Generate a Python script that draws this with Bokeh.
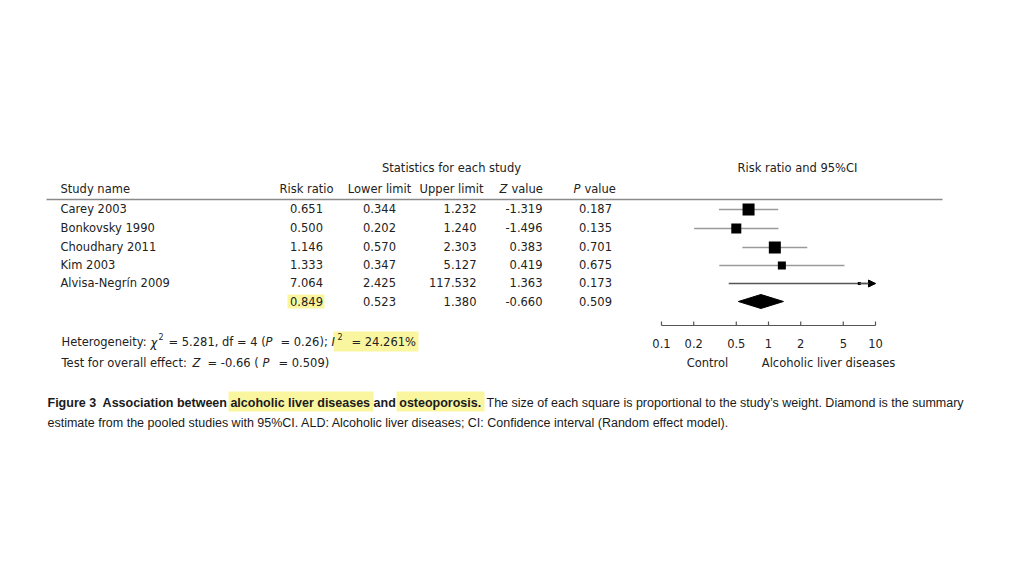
import math
from bokeh.plotting import figure
from bokeh.models import Range1d, LogScale, Arrow, NormalHead
from bokeh.core.properties import value
from bokeh.embed import file_html
from bokeh.resources import INLINE

# ---------------- data ----------------
studies = ["Carey 2003", "Bonkovsky 1990", "Choudhary 2011", "Kim 2003", "Alvisa-Negrín 2009"]
risk_ratio = [0.651, 0.500, 1.146, 1.333, 7.064]
lower_limit = [0.344, 0.202, 0.570, 0.347, 2.425]
upper_limit = [1.232, 1.240, 2.303, 5.127, 117.532]
z_value = [-1.319, -1.496, 0.383, 0.419, 1.363]
p_value = [0.187, 0.135, 0.701, 0.675, 0.173]
# lower end of each drawn CI line
plot_lower = [0.344, 0.202, 0.570, 0.347, 0.425]
weight_pct = [31.2, 21.7, 31.2, 13.9, 2.0]

pooled = {"rr": 0.849, "lo": 0.523, "hi": 1.380, "z": -0.660, "p": 0.509}

axis_ticks = [0.1, 0.2, 0.5, 1, 2, 5, 10]
axis_tick_labels = ["0.1", "0.2", "0.5", "1", "2", "5", "10"]

col_headers = ["Risk ratio", "Lower limit", "Upper limit"]
stats_title = "Statistics for each study"
forest_title = "Risk ratio and 95%CI"
side_labels = ["Control", "Alcoholic liver diseases"]

caption_bold = "Figure 3\u00a0 Association between alcoholic liver diseases and osteoporosis."
caption_rest1 = "The size of each square is proportional to the study\u2019s weight. Diamond is the summary"
caption_line2 = "estimate from the pooled studies with 95%CI. ALD: Alcoholic liver diseases; CI: Confidence interval (Random effect model)."

# ---------------- layout / style ----------------
W, H = 1008, 560
FONT = value("DejaVu Sans")
CAPFONT = value("Liberation Sans")
FS = "11.5px"
CFS = "12.5px"
TXT = "#222222"
HL = "#faf6a0"
row_y = [208, 227, 246, 264, 282, 301]
PX_PER_DEC = 107.0
X_ONE = 768.0

p = figure(width=W, height=H, output_backend="svg", toolbar_location=None,
           x_range=Range1d(0, W), y_range=Range1d(H, 0),
           x_axis_location=None, y_axis_location=None, min_border=0)
p.outline_line_color = None
p.grid.visible = False
p.background_fill_color = "white"
p.border_fill_color = "white"

lo_exp = (0 - X_ONE) / PX_PER_DEC
hi_exp = (W - X_ONE) / PX_PER_DEC
p.extra_x_ranges = {"log": Range1d(10 ** lo_exp, 10 ** hi_exp)}
p.extra_x_scales = {"log": LogScale()}


def txt(x, y, s, align="left", size=FS, style="normal", font=FONT, color=TXT):
    p.text(x=[x], y=[y], text=[s], text_align=align, text_baseline="middle",
           text_font=font, text_font_size=size, text_font_style=style,
           text_color=color)


# highlights
p.quad(left=[287, 333, 228, 396], right=[324, 418, 373, 484],
       top=[294, 331, 391, 391], bottom=[308, 351, 411, 411],
       fill_color=HL, line_color=None)

# headers
txt(451, 167, stats_title, "center")
txt(797, 167, forest_title, "center")
txt(60, 188, "Study name")
for s, cx in zip(col_headers, [306, 379, 451]):
    txt(cx, 188, s, "center")
txt(499, 188, "Z", style="italic")
txt(511, 188, "value")
txt(573, 188, "P", style="italic")
txt(584, 188, "value")

# header rule
p.segment(x0=[46], x1=[942], y0=[199], y1=[199], line_color="#8a8a8a", line_width=1.3)

# table rows
for i, name in enumerate(studies):
    y = row_y[i]
    txt(60, y, name)
    txt(306, y, f"{risk_ratio[i]:.3f}", "center")
    txt(379, y, f"{lower_limit[i]:.3f}", "center")
    txt(476, y, f"{upper_limit[i]:.3f}", "right")
    txt(542, y, f"{z_value[i]:.3f}", "right")
    txt(595, y, f"{p_value[i]:.3f}", "center")
ys = row_y[5]
txt(306, ys, f"{pooled['rr']:.3f}", "center")
txt(379, ys, f"{pooled['lo']:.3f}", "center")
txt(476, ys, f"{pooled['hi']:.3f}", "right")
txt(542, ys, f"{pooled['z']:.3f}", "right")
txt(595, ys, f"{pooled['p']:.3f}", "center")

# forest: CI lines
x_max = axis_ticks[-1]
line_y = [y + 1 for y in row_y[:5]]
for i in range(5):
    hi = min(upper_limit[i], x_max)
    col = "#555555" if upper_limit[i] > x_max else "#9a9a9a"
    p.segment(x0=[plot_lower[i]], x1=[hi], y0=[line_y[i]], y1=[line_y[i]],
              line_color=col, line_width=1.3, x_range_name="log")
    if upper_limit[i] > x_max:
        p.add_layout(Arrow(x_start=risk_ratio[i], x_end=x_max, y_start=line_y[i], y_end=line_y[i],
                           line_color="#555555", line_width=1.3, x_range_name="log",
                           end=NormalHead(size=7, fill_color="black", line_color="black")))

# squares
sizes = [2.15 * math.sqrt(w) for w in weight_pct]
p.scatter(x=risk_ratio, y=line_y, size=sizes, marker="square",
          fill_color="black", line_color=None, x_range_name="log")

# diamond
p.patch(x=[pooled["lo"], pooled["rr"], pooled["hi"], pooled["rr"]],
        y=[ys, ys - 7, ys, ys + 7], fill_color="black", line_color="black",
        x_range_name="log")

# axis
p.segment(x0=[axis_ticks[0]], x1=[axis_ticks[-1]], y0=[325], y1=[325],
          line_color="#555555", line_width=1.2, x_range_name="log")
p.segment(x0=axis_ticks, x1=axis_ticks, y0=[325] * 7, y1=[321] * 7,
          line_color="#555555", line_width=1.2, x_range_name="log")
p.text(x=axis_ticks, y=[343] * 7, text=axis_tick_labels, text_align="center",
       text_baseline="middle", text_font=FONT, text_font_size=FS, text_color=TXT,
       x_range_name="log")
txt(707, 362, side_labels[0], "center")
txt(828, 362, side_labels[1], "center")

# heterogeneity lines
txt(61, 341, "Heterogeneity:")
txt(150, 342, "\u03c7", style="italic")
txt(158, 336, "2", size="8px")
txt(168, 341, "= 5.281, df = 4 (")
txt(265, 341, "P", style="italic")
txt(280, 341, "= 0.26);")
txt(331, 341, "I", style="italic")
txt(337, 336, "2", size="8px")
txt(351, 341, "= 24.261%")

txt(61, 362, "Test for overall effect:")
txt(192, 362, "Z", style="italic")
txt(207, 362, "= -0.66 (")
txt(262, 362, "P", style="italic")
txt(278, 362, "= 0.509)")

# caption
txt(47, 402, caption_bold, size=CFS, style="bold", font=CAPFONT, color="#1a1a1a")
txt(486, 402, caption_rest1, size=CFS, font=CAPFONT, color="#1a1a1a")
txt(47, 422, caption_line2, size=CFS, font=CAPFONT, color="#1a1a1a")

open("out.html", "w").write(file_html(p, INLINE))
